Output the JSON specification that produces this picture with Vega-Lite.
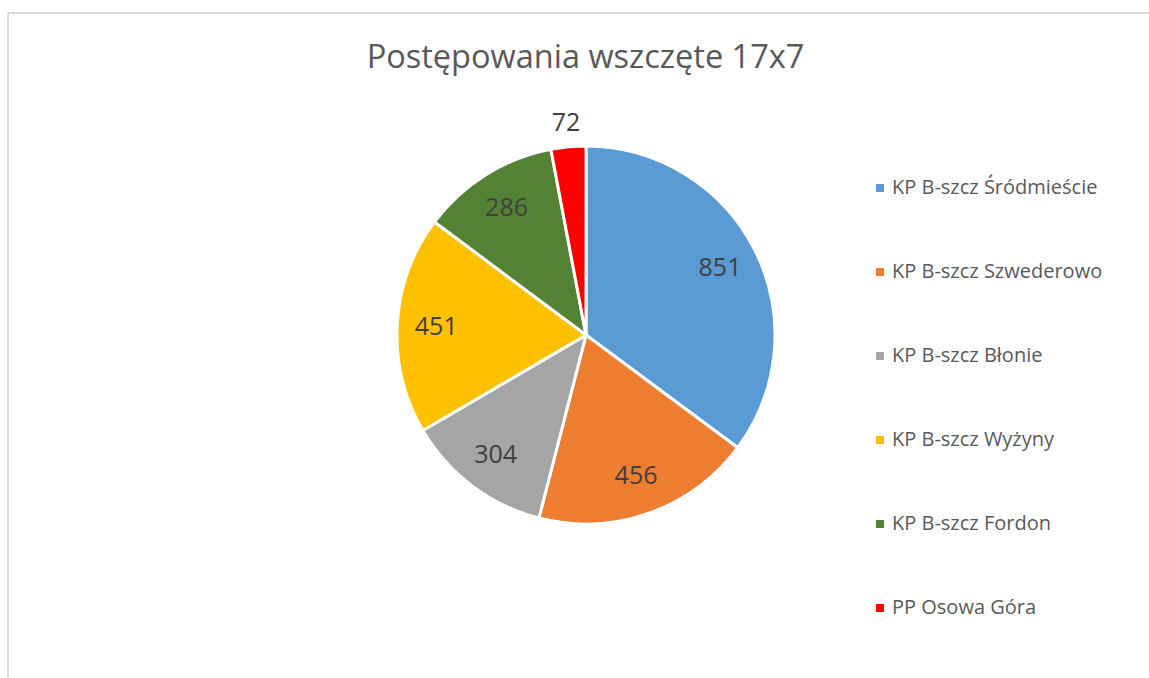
{
  "$schema": "https://vega.github.io/schema/vega-lite/v6.json",
  "autosize": "none",
  "width": 1141,
  "height": 665,
  "padding": {"left": 8, "top": 13, "right": 0, "bottom": 0},
  "background": "white",
  "config": {
    "view": {"stroke": null},
    "font": "Open Sans"
  },
  "title": {
    "text": "Postępowania wszczęte 17x7",
    "font": "Open Sans",
    "fontSize": 32.5,
    "fontWeight": "normal",
    "color": "#595959",
    "anchor": "middle",
    "frame": "group",
    "dx": 7,
    "dy": 66
  },
  "data": {
    "values": [
      {"idx": 1, "unit": "KP B-szcz Śródmieście", "value": 851},
      {"idx": 2, "unit": "KP B-szcz Szwederowo", "value": 456},
      {"idx": 3, "unit": "KP B-szcz Błonie", "value": 304},
      {"idx": 4, "unit": "KP B-szcz Wyżyny", "value": 451},
      {"idx": 5, "unit": "KP B-szcz Fordon", "value": 286},
      {"idx": 6, "unit": "PP Osowa Góra", "value": 72}
    ]
  },
  "layer": [
    {
      "data": {"values": [{"frame": 1}]},
      "mark": {"type": "rect", "fill": null, "stroke": "#d9d9d9", "strokeWidth": 2, "strokeDash": [1141, 1806, 665, 0]},
      "encoding": {}
    },
    {
      "mark": {"type": "arc", "outerRadius": 189, "stroke": "white", "strokeWidth": 3, "xOffset": 7.5, "yOffset": -10.5},
      "encoding": {
        "theta": {"field": "value", "type": "quantitative", "stack": true},
        "order": {"field": "idx", "type": "quantitative"},
        "color": {
          "field": "unit",
          "type": "nominal",
          "sort": null,
          "scale": {
            "domain": ["KP B-szcz Śródmieście", "KP B-szcz Szwederowo", "KP B-szcz Błonie", "KP B-szcz Wyżyny", "KP B-szcz Fordon", "PP Osowa Góra"],
            "range": ["#5B9BD5", "#ED7D31", "#A5A5A5", "#FFC000", "#548235", "#FF0000"]
          },
          "legend": {
            "title": null,
            "orient": "none",
            "legendX": 862,
            "legendY": 165,
            "symbolType": "square",
            "symbolSize": 64,
            "symbolStrokeWidth": 0,
            "labelFont": "Open Sans",
            "labelFontSize": 20,
            "labelColor": "#595959",
            "labelOffset": 2,
            "labelLimit": 400,
            "rowPadding": 64
          }
        }
      }
    },
    {
      "mark": {"type": "text", "radius": 150, "font": "Open Sans", "fontSize": 25, "color": "#404040", "xOffset": 7.5, "yOffset": -10.5},
      "encoding": {
        "theta": {"field": "value", "type": "quantitative", "stack": true},
        "order": {"field": "idx", "type": "quantitative"},
        "text": {"condition": {"test": "datum.value >= 100", "field": "value", "type": "quantitative"}, "value": ""}
      }
    },
    {
      "mark": {"type": "text", "radius": 213, "font": "Open Sans", "fontSize": 25, "color": "#404040", "xOffset": 7.5, "yOffset": -10.5},
      "encoding": {
        "theta": {"field": "value", "type": "quantitative", "stack": true},
        "order": {"field": "idx", "type": "quantitative"},
        "text": {"condition": {"test": "datum.value < 100", "field": "value", "type": "quantitative"}, "value": ""}
      }
    }
  ]
}
